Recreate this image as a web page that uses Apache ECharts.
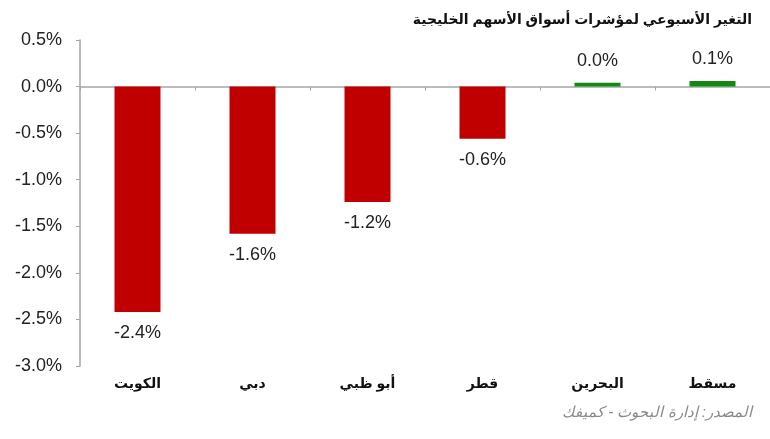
<!DOCTYPE html>
<html>
<head>
    <meta charset="utf-8">
    <title>weekly change</title>
    <script src="https://cdn.jsdelivr.net/npm/echarts@6/dist/echarts.min.js"></script>
    <style>
        body { margin: 0; background: #fff; }
    </style>
</head>
<body>
    <div id="main" style="width: 770px;height:439px;"></div>
    <script type="text/javascript">
        // markets, left to right
        var markets = ['الكويت', 'دبي', 'أبو ظبي', 'قطر', 'البحرين', 'مسقط'];
        // weekly change in %
        var weeklyChange = [-2.42, -1.58, -1.24, -0.56, 0.04, 0.06];
        var yTicks = { min: -3, max: 0.5, step: 0.5 };

        var titleText = 'التغير الأسبوعي لمؤشرات أسواق الأسهم الخليجية';
        var sourceText = 'المصدر: إدارة البحوث - كميفك';

        var myChart = echarts.init(document.getElementById('main'));
        var font = 'Arial, "Liberation Sans", "DejaVu Sans", sans-serif';

        var barData = weeklyChange.map(function (v) {
            return {
                value: v,
                itemStyle: { color: v < 0 ? '#C00000' : '#128A12' },
                label: { position: v < 0 ? 'bottom' : 'top', distance: v < 0 ? 12 : 13 }
            };
        });

        var option = {
            animation: false,
            textStyle: { fontFamily: font },
            title: [{
                text: titleText,
                right: 13,
                top: 8,
                textStyle: { fontSize: 14, fontWeight: 'bold', color: '#111', fontFamily: font }
            }, {
                text: sourceText,
                right: 13,
                top: 400,
                textStyle: { fontSize: 15, fontWeight: 'normal', fontStyle: 'italic', color: '#8a8a8a', fontFamily: font }
            }],
            grid: { left: 80, right: 0, top: 40, bottom: 73 },
            xAxis: [{
                type: 'category',
                data: markets,
                position: 'bottom',
                axisLine: { onZero: true, lineStyle: { color: '#a6a6a6', width: 1.5 } },
                axisTick: { show: true, length: 4, lineStyle: { color: '#a6a6a6' } },
                axisLabel: { show: false }
            }, {
                type: 'category',
                data: markets,
                position: 'bottom',
                axisLine: { show: false, onZero: false },
                axisTick: { show: false },
                axisLabel: { margin: 11, fontSize: 14, fontWeight: 'bold', color: '#111', fontFamily: font }
            }],
            yAxis: {
                type: 'value',
                min: yTicks.min,
                max: yTicks.max,
                interval: yTicks.step,
                axisLine: { show: true, lineStyle: { color: '#a6a6a6', width: 1.5 } },
                axisTick: { show: true, length: 4, lineStyle: { color: '#a6a6a6' } },
                splitLine: { show: false },
                axisLabel: {
                    margin: 18,
                    fontSize: 18,
                    color: '#222',
                    formatter: function (v) { return v.toFixed(1) + '%'; }
                }
            },
            series: [{
                type: 'bar',
                xAxisIndex: 0,
                barWidth: '40%',
                data: barData,
                label: {
                    show: true,
                    fontSize: 18,
                    color: '#222',
                    formatter: function (p) { return p.value.toFixed(1) + '%'; }
                }
            }]
        };

        myChart.setOption(option);
    </script>
</body>
</html>
